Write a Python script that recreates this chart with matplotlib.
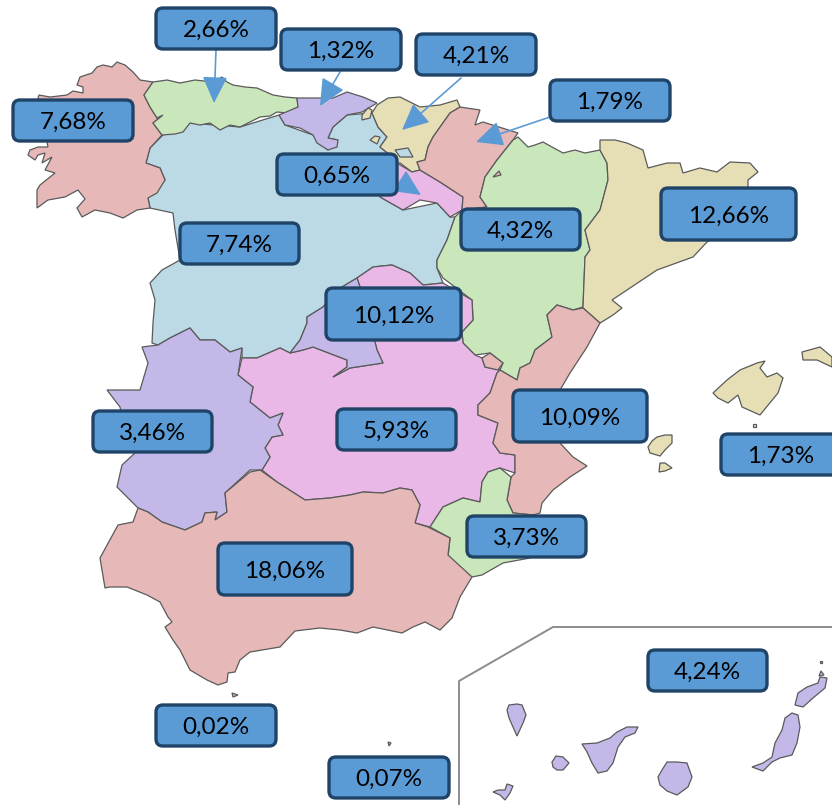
import matplotlib
matplotlib.use("Agg")
import matplotlib.pyplot as plt
from matplotlib.patches import FancyBboxPatch, FancyArrowPatch

plt.rcParams['font.family'] = ['Lato', 'DejaVu Sans']

# region outlines in image pixels
galicia = [(140,80),(133,72),(125,65),(117,62),(112,67),(103,65),(97,67),(92,73),(80,77),(77,85),(83,87),(83,93),(73,91),(67,95),(50,97),(39,95),(38,98),(48,147),(38,147),(30,150),(28,155),(35,160),(38,155),(45,153),(42,163),(52,157),(45,170),(55,173),(40,185),(37,190),(37,208),(48,200),(65,197),(78,190),(85,199),(77,208),(82,217),(95,210),(110,213),(123,218),(137,210),(150,208),(148,198),(157,193),(165,180),(160,168),(146,163),(150,148),(162,135),(153,123),(163,115),(157,118),(150,107),(144,95),(153,82)]
asturias = [(153,82),(144,95),(150,107),(157,118),(163,115),(153,123),(162,135),(175,134),(183,132),(190,123),(200,125),(210,123),(220,130),(230,125),(240,127),(250,122),(260,117),(270,116),(277,112),(287,113),(298,107),(297,98),(285,97),(273,95),(257,88),(245,87),(233,85),(227,82),(222,77),(213,82),(195,80),(180,83),(167,80)]
cantabria = [(297,98),(298,107),(279,115),(285,125),(300,128),(313,135),(317,143),(328,150),(337,147),(338,140),(328,138),(333,127),(347,115),(362,112),(377,103),(363,97),(347,92),(333,98),(313,98)]
basque = [(377,105),(372,113),(378,127),(387,137),(380,147),(390,155),(397,163),(400,163),(412,172),(420,170),(417,162),(425,160),(428,147),(433,137),(450,113),(460,107),(457,100),(440,105),(420,107),(400,97),(388,98)]
basque_a = [(362,115),(368,108),(372,110),(370,118),(362,120)]
basque_b = [(370,140),(375,136),(380,137),(377,144)]
trevino = [(395,150),(408,148),(413,157),(400,157)]
navarra = [(460,107),(480,110),(475,125),(483,122),(518,133),(513,140),(497,160),(485,177),(480,197),(487,207),(462,210),(463,197),(440,182),(420,170),(417,162),(425,160),(428,147),(433,137),(450,113)]
petilla = [(493,177),(499,171),(501,175)]
rioja = [(397,163),(412,172),(420,170),(440,182),(463,197),(462,210),(450,217),(437,203),(420,200),(403,210),(380,197)]
aragon = [(518,137),(528,147),(535,145),(543,142),(552,147),(563,153),(575,150),(585,153),(600,150),(607,163),(608,180),(600,210),(585,230),(590,250),(585,257),(583,307),(573,310),(557,305),(547,315),(552,337),(535,350),(530,363),(520,368),(517,380),(500,370),(503,363),(490,353),(475,355),(463,343),(462,332),(473,320),(472,300),(443,278),(437,268),(437,260),(447,240),(455,217),(462,210),(487,207),(480,197),(485,177),(497,160),(513,140)]
catalonia = [(600,140),(615,140),(627,143),(643,150),(648,168),(667,163),(680,163),(683,173),(700,168),(717,172),(730,162),(750,163),(758,172),(748,180),(748,188),(748,220),(707,242),(693,257),(657,270),(630,288),(612,300),(622,308),(613,315),(605,320),(600,323),(583,308),(583,307),(585,257),(590,250),(585,230),(600,210),(608,180),(607,163),(600,150)]
valencia = [(557,305),(573,310),(583,308),(600,323),(587,347),(570,373),(560,390),(555,415),(560,443),(573,457),(587,466),(570,477),(553,490),(542,503),(540,513),(533,515),(513,513),(507,500),(511,477),(515,473),(515,455),(500,453),(493,443),(498,423),(478,415),(478,405),(490,393),(497,373),(500,370),(517,380),(520,368),(530,363),(535,350),(552,337),(547,315)]
ademuz = [(482,358),(490,353),(503,363),(498,370),(485,367)]
murcia = [(500,468),(511,477),(507,500),(513,513),(533,515),(530,558),(503,563),(482,575),(472,577),(460,572),(448,557),(450,538),(430,527),(443,507),(463,498),(480,502),(482,482),(488,472)]
andalusia = [(250,472),(260,470),(277,482),(305,500),(330,498),(350,495),(363,492),(383,493),(400,488),(412,490),(420,505),(415,523),(428,527),(450,538),(448,555),(472,577),(460,597),(452,618),(440,630),(425,622),(413,627),(402,633),(373,627),(357,633),(340,630),(320,628),(295,631),(280,647),(250,652),(240,660),(235,672),(228,673),(227,682),(218,685),(207,680),(190,670),(180,650),(173,640),(165,627),(172,622),(168,617),(160,602),(147,595),(127,587),(110,587),(105,588),(100,558),(118,525),(133,522),(138,508),(148,512),(162,522),(185,530),(202,522),(205,513),(217,512),(215,520),(227,512),(225,493)]
extremadura = [(190,328),(200,340),(215,340),(230,352),(242,348),(238,375),(253,387),(250,402),(270,418),(283,413),(278,425),(283,435),(272,437),(265,448),(270,457),(262,470),(250,470),(225,493),(227,512),(215,520),(217,512),(205,513),(202,522),(185,530),(162,522),(148,512),(138,508),(125,495),(117,487),(122,465),(135,453),(125,430),(120,407),(107,390),(140,390),(148,363),(142,347),(158,345),(170,338)]
la_mancha = [(242,358),(238,375),(253,387),(250,402),(270,418),(283,413),(278,425),(283,435),(272,437),(265,448),(270,457),(262,470),(277,482),(305,500),(330,498),(350,495),(363,492),(383,493),(400,488),(412,490),(420,505),(415,523),(430,527),(443,507),(463,498),(480,502),(482,482),(488,472),(500,468),(515,473),(515,455),(500,453),(493,443),(498,423),(478,415),(478,405),(490,393),(497,373),(500,370),(485,367),(482,358),(475,355),(463,343),(462,332),(473,320),(472,300),(443,283),(423,285),(410,273),(392,265),(373,267),(357,278),(360,287),(375,342),(377,350),(383,363),(350,368),(333,377),(347,367),(347,360),(313,347),(303,350),(290,353),(280,348),(257,358)]
madrid = [(342,287),(357,278),(360,287),(375,342),(377,350),(383,363),(350,368),(333,377),(347,367),(347,360),(313,347),(303,350),(290,353),(300,340),(307,323),(307,317),(323,307)]
castilla_leon = [(163,135),(190,123),(240,127),(279,115),(285,125),(313,135),(328,150),(338,140),(328,138),(333,127),(347,115),(372,113),(378,127),(387,137),(380,147),(390,155),(397,163),(380,197),(403,210),(437,203),(450,217),(455,217),(447,240),(437,260),(437,268),(443,283),(423,285),(410,273),(392,265),(373,267),(357,278),(342,287),(323,307),(307,317),(307,323),(300,340),(290,353),(280,348),(257,358),(242,358),(242,348),(230,352),(215,340),(200,340),(190,328),(170,338),(158,345),(152,343),(153,323),(155,300),(150,283),(162,270),(180,260),(175,230),(173,213),(150,208),(148,198),(165,180),(160,168),(146,163),(150,148)]
mallorca = [(713,393),(727,380),(740,370),(757,363),(765,361),(760,368),(767,377),(777,373),(783,378),(778,393),(760,415),(742,407),(738,395),(728,403),(718,398)]
menorca = [(802,352),(820,347),(832,357),(832,367),(817,360),(803,360)]
cabrera = [(753,424),(756,424),(756,427),(753,427)]
ibiza = [(648,447),(652,441),(657,437),(665,435),(672,435),(672,443),(665,450),(660,456),(650,453)]
formentera = [(660,463),(665,463),(672,468),(665,471),(659,472)]
la_palma = [(507,710),(509,705),(517,704),(522,705),(526,715),(523,723),(517,736),(513,727),(509,718)]
gomera = [(552,762),(556,756),(563,757),(569,763),(563,770),(557,770),(553,767)]
hierro = [(493,792),(498,790),(505,790),(507,784),(513,786),(510,793),(505,800),(500,795)]
tenerife = [(582,744),(597,743),(610,738),(617,732),(627,727),(638,727),(635,733),(625,737),(618,747),(613,763),(607,771),(598,773),(592,763),(587,752)]
gran_canaria = [(658,777),(662,770),(667,762),(677,762),(687,763),(692,777),(688,787),(677,795),(667,791),(660,785)]
fuerteventura = [(752,767),(763,763),(772,757),(775,743),(782,730),(785,718),(792,713),(798,715),(800,727),(797,743),(792,755),(780,758),(772,762),(763,771)]
lanzarote = [(795,705),(798,693),(807,687),(818,683),(820,677),(827,678),(825,688),(813,698),(803,707)]
graciosa = [(819,676),(821,671),(824,675)]
alegranza = [(820,661),(822,661),(822,663),(820,663)]
ceuta = [(232,693),(238,695),(233,697)]
melilla = [(388,742),(391,743),(389,746)]
inset = [(459,805),(459,681),(553,627),(832,627)]

labels = ['2,66%', '1,32%', '4,21%', '1,79%', '7,68%', '0,65%', '7,74%', '4,32%', '12,66%',
          '10,12%', '10,09%', '3,46%', '5,93%', '3,73%', '18,06%', '0,02%', '0,07%', '1,73%', '4,24%']
boxes = [(156,8,276,49), (281,29,401,70), (416,34,536,75), (550,80,670,121), (13,100,133,141),
         (277,154,397,195), (180,223,299,264), (461,209,580,250), (661,188,796,240),
         (326,288,461,340), (513,390,647,442), (93,411,212,452), (337,409,456,450),
         (467,516,586,557), (218,543,352,595), (156,705,276,746), (329,757,449,798),
         (721,434,841,475), (648,650,767,691)]
arrows = [((216,50),(214,103)), ((340,72),(320,106)), ((461,78),(402,130)),
          ((550,117),(476,142)), ((401,182),(421,195))]

RED = '#E6B8B7'
GREEN = '#C9E7BB'
PURPLE = '#C3B8E8'
YELLOW = '#E6DFB5'
BLUE = '#BCD9E6'
MAGENTA = '#E9B8E6'

fig = plt.figure(figsize=(8.32, 8.05), dpi=100)
ax = fig.add_axes([0, 0, 1, 1])
ax.set_xlim(0, 832)
ax.set_ylim(805, 0)
ax.axis('off')

shapes = [
    (castilla_leon, BLUE), (galicia, RED), (asturias, GREEN), (cantabria, PURPLE),
    (basque, YELLOW), (basque_a, YELLOW), (basque_b, YELLOW), (trevino, BLUE),
    (rioja, MAGENTA), (navarra, RED), (aragon, GREEN), (petilla, RED),
    (catalonia, YELLOW), (la_mancha, MAGENTA), (madrid, PURPLE), (extremadura, PURPLE),
    (valencia, RED), (ademuz, RED), (murcia, GREEN), (andalusia, RED),
    (mallorca, YELLOW), (menorca, YELLOW), (cabrera, YELLOW), (ibiza, YELLOW), (formentera, YELLOW),
    (la_palma, PURPLE), (gomera, PURPLE), (hierro, PURPLE), (tenerife, PURPLE),
    (gran_canaria, PURPLE), (fuerteventura, PURPLE), (lanzarote, PURPLE),
    (graciosa, PURPLE), (alegranza, PURPLE), (ceuta, RED), (melilla, RED),
]
for outline, colour in shapes:
    xs, ys = zip(*outline)
    ax.fill(xs, ys, facecolor=colour, edgecolor='#5A5A5A', linewidth=0.9, zorder=2)

ax.plot(*zip(*inset), color='#8C8C8C', linewidth=1.4, zorder=1)

for start, end in arrows:
    ax.add_patch(FancyArrowPatch(start, end, arrowstyle='-|>,head_length=5.5,head_width=2.6',
                                 mutation_scale=3.0, color='#5B9BD5', linewidth=1.2,
                                 shrinkA=0, shrinkB=0, zorder=3))

for label, (x0, y0, x1, y1) in zip(labels, boxes):
    ax.add_patch(FancyBboxPatch((x0 + 6, y0 + 6), x1 - x0 - 12, y1 - y0 - 12,
                                boxstyle='round,pad=6,rounding_size=7',
                                facecolor='#5B9BD5', edgecolor='#1F4468', linewidth=2.4,
                                zorder=4))
    cx = (x0 + x1) / 2 if label != '1,73%' else 781
    ax.text(cx, (y0 + y1) / 2 + 2, label, ha='center', va='center', fontsize=17.5,
            color='black', zorder=5)

fig.savefig('out.png', dpi=100)
